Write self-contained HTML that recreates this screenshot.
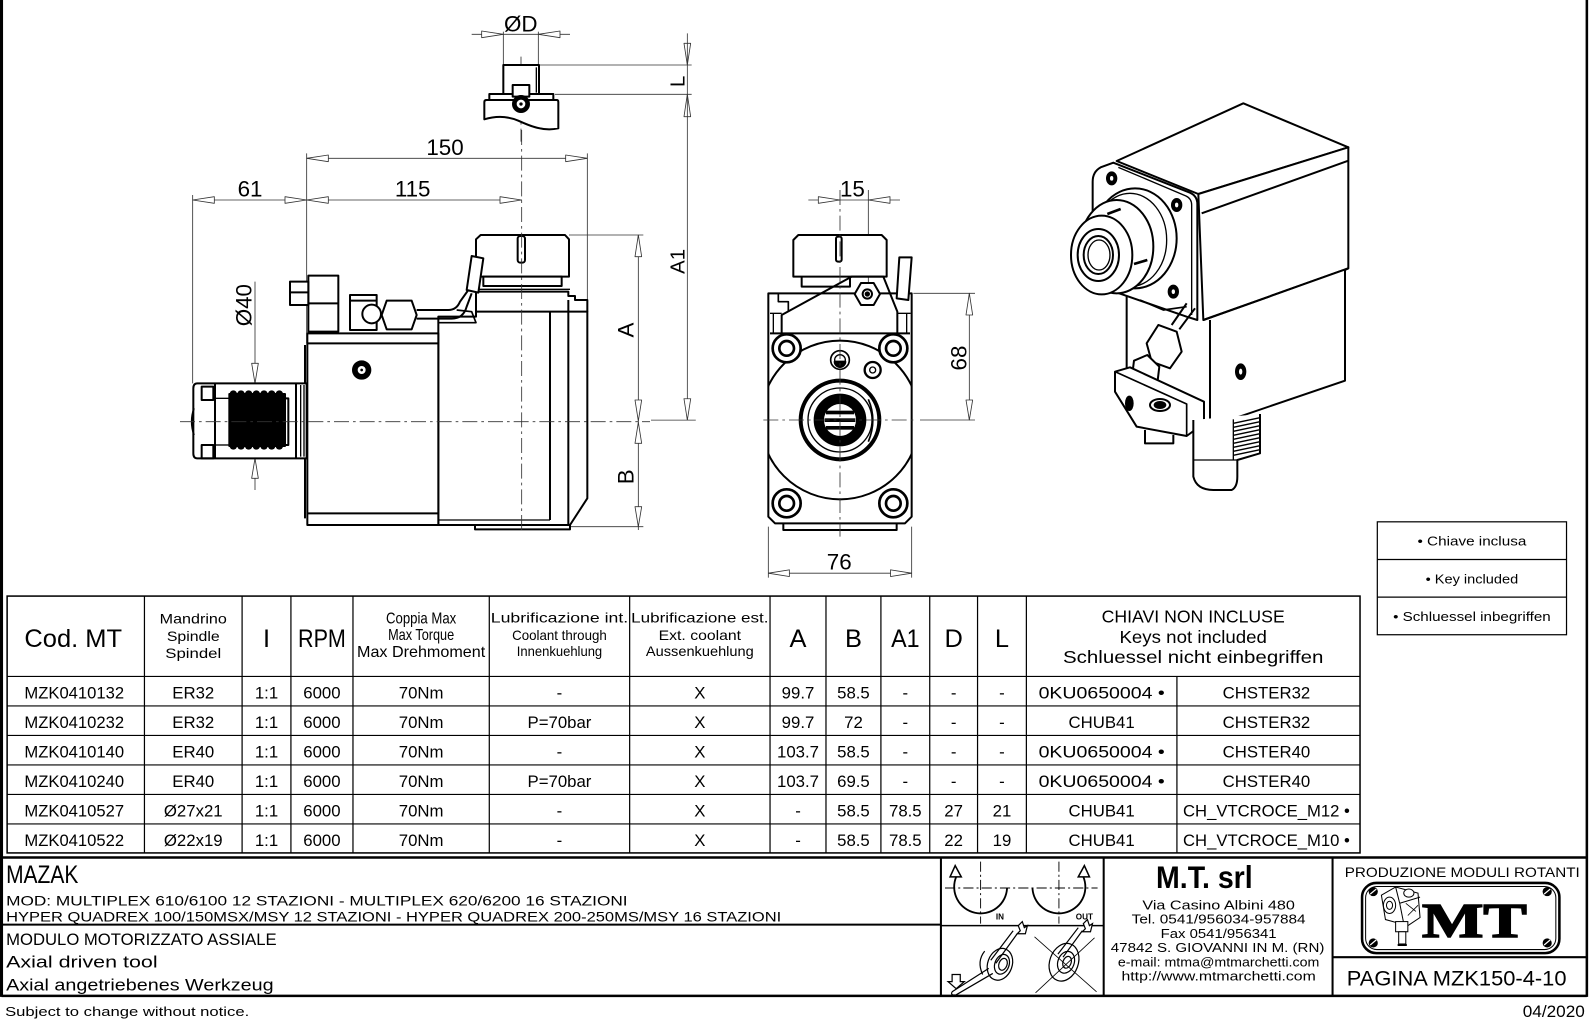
<!DOCTYPE html>
<html><head><meta charset="utf-8">
<style>
html,body{margin:0;padding:0;background:#fff;overflow:hidden;}
svg{display:block;}
text{font-family:"Liberation Sans",sans-serif;fill:#000;stroke:none;}
</style></head><body>
<svg width="1595" height="1023" viewBox="0 0 1568 1005.7" preserveAspectRatio="none" xmlns="http://www.w3.org/2000/svg">
<rect x="0" y="0" width="1568" height="1006" fill="#fff"/>

<!-- ============ FRAME ============ -->
<g stroke="#000" fill="none">
<line x1="1.5" y1="0" x2="1.5" y2="980" stroke-width="3"/>
<line x1="1560" y1="0" x2="1560" y2="980" stroke-width="2.5"/>
</g>

<!-- ============ TOP SMALL VIEW (ØD / L) ============ -->
<g transform="translate(432.55,0) scale(0.32769)" fill="none" stroke="#000" stroke-width="6" stroke-linejoin="round">
 <g stroke="#333" stroke-width="2.5">
  <line x1="95" y1="103" x2="390" y2="103"/>
  <line x1="190" y1="95" x2="190" y2="195"/>
  <line x1="295" y1="95" x2="295" y2="195"/>
  <polygon points="190,103 125,93 125,113" fill="#fff"/>
  <polygon points="295,103 360,93 360,113" fill="#fff"/>
  <line x1="297" y1="195" x2="755" y2="195"/>
  <line x1="345" y1="283" x2="755" y2="283"/>
  <polygon points="742,195 732,130 752,130" fill="#fff"/>
  <polygon points="742,283 732,350 752,350" fill="#fff"/>
  <line x1="243" y1="170" x2="243" y2="425" stroke-dasharray="40 12 8 12"/>
 </g>
 <rect x="190" y="195" width="107" height="87" fill="#fff"/>
 <line x1="289" y1="202" x2="289" y2="278" stroke-width="4"/>
 <path d="M133,306 Q133,300 140,300 H350 Q355,300 355,306 V385 C310,395 270,378 235,362 C195,345 160,350 133,358 Z" fill="#fff"/>
 <rect x="148" y="282" width="192" height="18" fill="#fff"/>
 <rect x="218" y="255" width="50" height="35" fill="#fff"/>
 <circle cx="243" cy="312" r="24" fill="#000"/>
 <circle cx="243" cy="312" r="13" fill="#fff" stroke="none"/>
 <circle cx="243" cy="312" r="5" fill="#000" stroke="none"/>
</g>
<text x="512" y="31" font-size="22" text-anchor="middle">ØD</text>
<!-- L/A1 dimension line -->
<g stroke="#333" stroke-width="0.8" fill="#fff">
 <line x1="675.7" y1="32.8" x2="675.7" y2="413"/>
 <line x1="640" y1="413" x2="684" y2="413"/>
 <polygon points="675.7,413 672.4,392 679,392"/>
</g>
<text transform="translate(673,80) rotate(-90)" font-size="20" text-anchor="middle">L</text>
<text transform="translate(673,257) rotate(-90)" font-size="20" text-anchor="middle">A1</text>

<!-- ============ SIDE VIEW ============ -->
<g transform="translate(167.12,127.8) scale(0.32769)" fill="none" stroke="#000" stroke-width="6" stroke-linejoin="round">
 <g stroke="#333" stroke-width="2.5">
  <line x1="410" y1="85" x2="1252" y2="85"/>
  <line x1="410" y1="70" x2="410" y2="640"/>
  <line x1="1252" y1="70" x2="1252" y2="510"/>
  <line x1="68" y1="210" x2="1055" y2="210"/>
  <line x1="68" y1="195" x2="68" y2="760"/>
  <line x1="255" y1="455" x2="255" y2="1080"/>
  <line x1="1405" y1="315" x2="1405" y2="1200"/>
  <line x1="1197" y1="315" x2="1420" y2="315"/>
  <line x1="1200" y1="1190" x2="1420" y2="1190"/>
  <g fill="#fff">
  <polygon points="410,85 475,75 475,95"/>
  <polygon points="1252,85 1187,75 1187,95"/>
  <polygon points="68,210 133,200 133,220"/>
  <polygon points="410,210 345,200 345,220"/>
  <polygon points="410,210 475,200 475,220"/>
  <polygon points="1055,210 990,200 990,220"/>
  <polygon points="255,760 245,700 265,700"/>
  <polygon points="255,985 245,1045 265,1045"/>
  <polygon points="1405,315 1395,380 1415,380"/>
  <polygon points="1405,873 1395,810 1415,810"/>
  <polygon points="1405,877 1395,940 1415,940"/>
  <polygon points="1405,1190 1395,1130 1415,1130"/>
  </g>
 </g>
 <!-- collet nut -->
 <path d="M932,315 H1185 L1197,328 V440 H918 V328 Z" fill="#fff"/>
 <rect x="1043" y="318" width="22" height="80" rx="8" fill="#fff"/>
 <rect x="940" y="440" width="235" height="28" fill="#fff"/>
 <line x1="925" y1="478" x2="1200" y2="478" stroke-width="4"/>
 <!-- plate + right block -->
 <path d="M918,545 V485 H1195 V498 H1215 V510 H1252 V545"/>
 <path d="M805,560 H918 V545 H1252 V1105 L1200,1185 H805 Z" fill="#fff"/>
 <line x1="1140" y1="545" x2="1140" y2="1170"/>
 <line x1="1195" y1="510" x2="1195" y2="1185"/>
 <line x1="805" y1="1170" x2="1140" y2="1170" stroke-width="4"/>
 <path d="M805,578 H918 L905,545 L860,540" stroke-width="5"/>
 <!-- left block -->
 <rect x="412" y="610" width="393" height="575" fill="#fff"/>
 <line x1="412" y1="640" x2="805" y2="640"/>
 <line x1="412" y1="1150" x2="805" y2="1150"/>
 <line x1="405" y1="645" x2="405" y2="1165"/>
 <path d="M915,1185 V1198 H1200 V1185"/>
 <!-- coolant block -->
 <rect x="415" y="437" width="90" height="168" fill="#fff"/>
 <line x1="415" y1="520" x2="505" y2="520"/>
 <rect x="360" y="455" width="55" height="70" fill="#fff"/>
 <line x1="360" y1="487" x2="415" y2="487"/>
 <rect x="540" y="495" width="80" height="105" fill="#fff"/>
 <line x1="540" y1="512" x2="620" y2="512"/>
 <circle cx="605" cy="552" r="28" fill="#fff"/>
 <path d="M650,512 H725 L740,555 L725,598 H650 L635,555 Z" fill="#fff"/>
 <path d="M740,540 H835 Q860,540 870,515 L895,480"/>
 <path d="M740,566 H845 Q880,566 890,530 L905,490"/>
 <polygon points="905,378 940,385 925,488 890,480" fill="#fff"/>
 <!-- screw -->
 <circle cx="575" cy="720" r="26" fill="#000"/>
 <circle cx="575" cy="720" r="12" fill="#fff" stroke="none"/>
 <circle cx="575" cy="720" r="4" fill="#000" stroke="none"/>
 <!-- shank -->
 <path d="M82,760 H410 V985 H82 Q70,985 70,970 V775 Q70,760 82,760 Z" fill="#fff"/>
 <path d="M72,835 Q58,875 72,915" stroke-width="5"/>
 <line x1="135" y1="760" x2="135" y2="985"/>
 <rect x="95" y="770" width="35" height="40"/>
 <rect x="95" y="945" width="35" height="40"/>
 <line x1="135" y1="805" x2="178" y2="805" stroke-width="4"/>
 <line x1="135" y1="945" x2="178" y2="945" stroke-width="4"/>
 <rect x="178" y="792" width="167" height="156" fill="#000"/>
 <g fill="#000" stroke="none">
  <circle cx="190" cy="792" r="11"/><circle cx="213" cy="792" r="11"/><circle cx="236" cy="792" r="11"/><circle cx="259" cy="792" r="11"/><circle cx="282" cy="792" r="11"/><circle cx="305" cy="792" r="11"/><circle cx="328" cy="792" r="11"/>
  <circle cx="190" cy="948" r="11"/><circle cx="213" cy="948" r="11"/><circle cx="236" cy="948" r="11"/><circle cx="259" cy="948" r="11"/><circle cx="282" cy="948" r="11"/><circle cx="305" cy="948" r="11"/><circle cx="328" cy="948" r="11"/>
 </g>
 <rect x="345" y="805" width="10" height="140" fill="#fff"/>
 <line x1="378" y1="760" x2="378" y2="985"/>
 <line x1="392" y1="765" x2="392" y2="980" stroke-width="4"/>
 <line x1="402" y1="765" x2="402" y2="980" stroke-width="4"/>
 <!-- centerlines -->
 <g stroke="#333" stroke-width="2.5" stroke-dasharray="45 12 8 12">
  <line x1="30" y1="875" x2="1440" y2="875"/>
  <line x1="1055" y1="0" x2="1055" y2="1200"/>
 </g>
</g>
<text x="437.5" y="152.5" font-size="22" text-anchor="middle">150</text>
<text x="245.8" y="193.3" font-size="22" text-anchor="middle">61</text>
<text x="405.7" y="193.3" font-size="22" text-anchor="middle">115</text>
<text transform="translate(247,300) rotate(-90)" font-size="22" text-anchor="middle">Ø40</text>
<text transform="translate(622.6,324.5) rotate(-90)" font-size="22" text-anchor="middle">A</text>
<text transform="translate(622.6,468.7) rotate(-90)" font-size="22" text-anchor="middle">B</text>

<!-- ============ FRONT VIEW ============ -->
<defs><clipPath id="bodyclip"><rect x="85" y="370" width="430" height="690"/></clipPath></defs>
<g transform="translate(727.47,167.12) scale(0.32769)" fill="none" stroke="#000" stroke-width="6" stroke-linejoin="round">
 <g stroke="#333" stroke-width="2.5">
  <line x1="205" y1="90" x2="480" y2="90"/>
  <line x1="385" y1="60" x2="385" y2="440"/>
  <line x1="688" y1="370" x2="688" y2="750"/>
  <line x1="520" y1="370" x2="705" y2="370"/>
  <line x1="540" y1="750" x2="705" y2="750"/>
  <line x1="85" y1="1070" x2="85" y2="1223"/>
  <line x1="515" y1="1070" x2="515" y2="1223"/>
  <g fill="#fff">
  <polygon points="300,90 235,80 235,100"/>
  <polygon points="385,90 450,80 450,100"/>
  <polygon points="688,370 678,435 698,435"/>
  <polygon points="688,750 678,690 698,690"/>
  </g>
 </g>
 <!-- nut -->
 <path d="M175,195 H425 L440,210 V320 H160 V210 Z" fill="#fff"/>
 <rect x="288" y="200" width="17" height="75" rx="6" fill="#fff"/>
 <path d="M185,320 V350 H330 V320"/>
 <!-- body -->
 <path d="M85,370 V1040 L105,1060 H495 L515,1040 V370 Z" fill="#fff"/>
 <path d="M85,370 H115 V395 H145 V425" stroke-width="5"/>
 <path d="M125,490 V435 L335,320 H430 L472,425 V490"/>
 <line x1="90" y1="490" x2="510" y2="490"/>
 <line x1="90" y1="430" x2="125" y2="430" stroke-width="4"/>
 <line x1="472" y1="430" x2="512" y2="430" stroke-width="4"/>
 <line x1="100" y1="430" x2="100" y2="490" stroke-width="4"/>
 <line x1="500" y1="430" x2="500" y2="490" stroke-width="4"/>
 <polygon points="420,372 401,405 363,405 344,372 363,339 401,339" fill="#fff"/>
 <circle cx="382" cy="372" r="14"/>
 <circle cx="382" cy="372" r="5" fill="#000"/>
 <polygon points="478,262 515,262 505,390 470,385" fill="#fff"/>
 <circle cx="300" cy="750" r="238" clip-path="url(#bodyclip)"/>
 <g stroke-width="8">
  <circle cx="140" cy="535" r="42" fill="#fff"/><circle cx="140" cy="535" r="22"/>
  <circle cx="460" cy="535" r="42" fill="#fff"/><circle cx="460" cy="535" r="22"/>
  <circle cx="140" cy="1000" r="42" fill="#fff"/><circle cx="140" cy="1000" r="22"/>
  <circle cx="460" cy="1000" r="42" fill="#fff"/><circle cx="460" cy="1000" r="22"/>
 </g>
 <circle cx="300" cy="750" r="118" stroke-width="12"/>
 <circle cx="300" cy="750" r="96" stroke-width="4"/>
 <circle cx="300" cy="750" r="76" fill="#000"/>
 <circle cx="300" cy="750" r="48" fill="#fff" stroke="none"/>
 <rect x="258" y="722" width="84" height="11" fill="#000" stroke="none"/>
 <rect x="254" y="745" width="92" height="11" fill="#000" stroke="none"/>
 <rect x="258" y="768" width="84" height="11" fill="#000" stroke="none"/>
 <path d="M385,688 Q412,750 385,815" stroke-width="5"/>
 <circle cx="300" cy="570" r="28" stroke-width="5"/>
 <circle cx="300" cy="570" r="16" stroke-width="4"/>
 <path d="M284,575 H316 A16,16 0 0 1 284,575 Z" fill="#000"/>
 <circle cx="398" cy="600" r="24" stroke-width="7"/>
 <circle cx="398" cy="600" r="9" stroke-width="4"/>
 <path d="M130,1060 V1080 H470 V1060"/>
 <g stroke="#333" stroke-width="2.5" stroke-dasharray="45 12 8 12">
  <line x1="300" y1="60" x2="300" y2="1100"/>
  <line x1="70" y1="750" x2="530" y2="750"/>
 </g>
</g>
<g stroke="#333" stroke-width="0.8" fill="#fff">
 <line x1="755.3" y1="563.5" x2="896.2" y2="563.5"/>
 <polygon points="755.3,563.5 776,560.2 776,566.8"/>
 <polygon points="896.2,563.5 875.5,560.2 875.5,566.8"/>
</g>
<text x="838" y="193.4" font-size="22" text-anchor="middle">15</text>
<text transform="translate(950,352) rotate(-90)" font-size="22" text-anchor="middle">68</text>
<text x="825" y="560" font-size="22" text-anchor="middle">76</text>

<!-- ============ ISOMETRIC VIEW ============ -->
<g transform="translate(1012.56,88.48) scale(0.32769)" fill="none" stroke="#000" stroke-width="6" stroke-linejoin="round">
 <path d="M260,213 L640,40 L955,172 L505,312 Z" fill="#fff"/>
 <path d="M505,312 L955,172 V535 L520,690 Z" fill="#fff"/>
 <line x1="515" y1="370" x2="955" y2="212"/>
 <path d="M955,535 L945,540 V872 L540,1010 V690" fill="#fff"/>
 <line x1="520" y1="690" x2="955" y2="535"/>
 <path d="M290,600 V845 L540,1010"/>
 <ellipse cx="632" cy="845" rx="14" ry="22" fill="#000"/>
 <ellipse cx="632" cy="845" rx="5" ry="9" fill="#fff" stroke="none"/>
 <!-- front plate -->
 <path d="M250,218 L480,308 Q502,318 502,342 V690 L470,680 L210,590 Q188,582 188,560 V275 Q188,245 212,232 Z" fill="#fff"/>
 <path d="M265,232 L468,318 Q485,326 485,345 V675" stroke-width="4"/>
 <g>
  <ellipse cx="245" cy="265" rx="14" ry="18" fill="#000"/>
  <ellipse cx="440" cy="345" rx="14" ry="18" fill="#000"/>
  <ellipse cx="430" cy="605" rx="14" ry="18" fill="#000"/>
 </g>
 <g fill="#fff" stroke="none">
  <ellipse cx="245" cy="265" rx="5" ry="7"/><ellipse cx="440" cy="345" rx="5" ry="7"/><ellipse cx="430" cy="605" rx="5" ry="7"/>
 </g>
 <!-- collet -->
 <ellipse cx="315" cy="445" rx="125" ry="150" fill="#fff"/>
 <ellipse cx="300" cy="450" rx="110" ry="140" stroke-width="4"/>
 <ellipse cx="260" cy="470" rx="110" ry="140" fill="#fff"/>
 <ellipse cx="215" cy="495" rx="92" ry="118" fill="#fff"/>
 <ellipse cx="205" cy="495" rx="62" ry="78"/>
 <ellipse cx="205" cy="495" rx="44" ry="57"/>
 <ellipse cx="207" cy="495" rx="33" ry="45" stroke-width="4"/>
 <path d="M232,372 L272,357 M312,522 L352,510" stroke-width="8"/>
 <path d="M330,630 L400,660 L470,650" stroke-width="5"/>
 <!-- fitting -->
 <path d="M470,640 L425,705 M495,655 L448,718"/>
 <path d="M385,705 L440,725 L455,785 L420,835 L365,815 L350,760 Z" fill="#fff"/>
 <path d="M312,812 L352,795 L388,830 L382,880 L342,895 L306,860 Z" fill="#fff"/>
 <!-- bracket -->
 <path d="M255,845 L300,832 L522,935 V1000 L470,1038 L320,1010 L255,905 Z" fill="#fff"/>
 <path d="M255,845 L470,942 V1038" stroke-width="5"/>
 <ellipse cx="390" cy="945" rx="30" ry="18" fill="#fff"/>
 <ellipse cx="390" cy="945" rx="16" ry="9" fill="#000"/>
 <ellipse cx="298" cy="940" rx="10" ry="20" fill="#000"/>
 <path d="M345,1020 V1060 H430 V1035"/>
 <!-- threaded shank -->
 <path d="M490,990 V1160 Q500,1200 550,1200 H605 Q622,1192 622,1160 V1110 L690,1090 V972" fill="#fff"/>
 <g stroke-width="4">
  <line x1="610" y1="1000" x2="690" y2="983"/><line x1="610" y1="1012" x2="690" y2="995"/><line x1="610" y1="1024" x2="690" y2="1007"/>
  <line x1="610" y1="1036" x2="690" y2="1019"/><line x1="610" y1="1048" x2="690" y2="1031"/><line x1="610" y1="1060" x2="690" y2="1043"/>
  <line x1="610" y1="1072" x2="690" y2="1055"/><line x1="610" y1="1084" x2="690" y2="1067"/><line x1="610" y1="1096" x2="690" y2="1079"/>
  <line x1="610" y1="988" x2="610" y2="1110"/>
 </g>
 <line x1="490" y1="1110" x2="622" y2="1110" stroke-width="4"/>
</g>

<!-- ============ KEY LEGEND ============ -->
<g stroke="#000" stroke-width="1.2" fill="none">
 <rect x="1354" y="513" width="186" height="111"/>
 <line x1="1354" y1="550" x2="1540" y2="550"/>
 <line x1="1354" y1="587" x2="1540" y2="587"/>
</g>
<text x="1447" y="536.5" font-size="13" text-anchor="middle" textLength="107" lengthAdjust="spacingAndGlyphs">• Chiave inclusa</text>
<text x="1447" y="573.5" font-size="13" text-anchor="middle" textLength="91" lengthAdjust="spacingAndGlyphs">• Key included</text>
<text x="1447" y="610.5" font-size="13" text-anchor="middle" textLength="155" lengthAdjust="spacingAndGlyphs">• Schluessel inbegriffen</text>

<!-- ============ TABLE ============ -->
<g stroke="#000" stroke-width="1.2" fill="none">
 <rect x="7" y="586" width="1330" height="252.5" stroke-width="1.5"/>
 <line x1="7" y1="665" x2="1337" y2="665"/>
 <line x1="7" y1="694" x2="1337" y2="694"/>
 <line x1="7" y1="723" x2="1337" y2="723"/>
 <line x1="7" y1="752" x2="1337" y2="752"/>
 <line x1="7" y1="781" x2="1337" y2="781"/>
 <line x1="7" y1="810" x2="1337" y2="810"/>
 <line x1="142" y1="586" x2="142" y2="839"/>
 <line x1="238" y1="586" x2="238" y2="839"/>
 <line x1="286" y1="586" x2="286" y2="839"/>
 <line x1="347" y1="586" x2="347" y2="839"/>
 <line x1="481" y1="586" x2="481" y2="839"/>
 <line x1="619" y1="586" x2="619" y2="839"/>
 <line x1="757" y1="586" x2="757" y2="839"/>
 <line x1="812" y1="586" x2="812" y2="839"/>
 <line x1="866" y1="586" x2="866" y2="839"/>
 <line x1="914" y1="586" x2="914" y2="839"/>
 <line x1="961" y1="586" x2="961" y2="839"/>
 <line x1="1009" y1="586" x2="1009" y2="839"/>
 <line x1="1157" y1="665" x2="1157" y2="839"/>
</g>
<!-- header -->
<text x="72" y="636" font-size="25" text-anchor="middle" textLength="96" lengthAdjust="spacingAndGlyphs">Cod. MT</text>
<g font-size="14" text-anchor="middle">
 <text x="190" y="613" textLength="66" lengthAdjust="spacingAndGlyphs">Mandrino</text>
 <text x="190" y="630" textLength="52" lengthAdjust="spacingAndGlyphs">Spindle</text>
 <text x="190" y="647" textLength="55" lengthAdjust="spacingAndGlyphs">Spindel</text>
</g>
<text x="262" y="636" font-size="25" text-anchor="middle">I</text>
<text x="316.5" y="636" font-size="25" text-anchor="middle" textLength="47" lengthAdjust="spacingAndGlyphs">RPM</text>
<g font-size="15" text-anchor="middle">
 <text x="414" y="613" textLength="69" lengthAdjust="spacingAndGlyphs">Coppia Max</text>
 <text x="414" y="629" textLength="65" lengthAdjust="spacingAndGlyphs">Max Torque</text>
 <text x="414" y="646" textLength="126" lengthAdjust="spacingAndGlyphs">Max Drehmoment</text>
</g>
<g font-size="13.5" text-anchor="middle">
 <text x="550" y="612" textLength="135" lengthAdjust="spacingAndGlyphs">Lubrificazione int.</text>
 <text x="550" y="629" textLength="93" lengthAdjust="spacingAndGlyphs">Coolant through</text>
 <text x="550" y="645" textLength="84" lengthAdjust="spacingAndGlyphs">Innenkuehlung</text>
 <text x="688" y="612" textLength="135" lengthAdjust="spacingAndGlyphs">Lubrificazione est.</text>
 <text x="688" y="629" textLength="81" lengthAdjust="spacingAndGlyphs">Ext. coolant</text>
 <text x="688" y="645" textLength="106" lengthAdjust="spacingAndGlyphs">Aussenkuehlung</text>
</g>
<g font-size="25" text-anchor="middle">
 <text x="784.5" y="636">A</text>
 <text x="839" y="636">B</text>
 <text x="890" y="636" textLength="28" lengthAdjust="spacingAndGlyphs">A1</text>
 <text x="937.5" y="636">D</text>
 <text x="985" y="636">L</text>
</g>
<g font-size="17" text-anchor="middle">
 <text x="1173" y="612" textLength="180" lengthAdjust="spacingAndGlyphs">CHIAVI NON INCLUSE</text>
 <text x="1173" y="632" textLength="145" lengthAdjust="spacingAndGlyphs">Keys not included</text>
 <text x="1173" y="652" textLength="256" lengthAdjust="spacingAndGlyphs">Schluessel nicht einbegriffen</text>
</g>
<!-- rows -->
<g font-size="16.5" text-anchor="middle">
 <text x="73" y="686.5" textLength="98" lengthAdjust="spacingAndGlyphs">MZK0410132</text>
 <text x="190" y="686.5">ER32</text><text x="262" y="686.5">1:1</text><text x="316.5" y="686.5">6000</text>
 <text x="414" y="686.5">70Nm</text><text x="550" y="686.5">-</text><text x="688" y="686.5">X</text>
 <text x="784.5" y="686.5">99.7</text><text x="839" y="686.5">58.5</text><text x="890" y="686.5">-</text><text x="937.5" y="686.5">-</text><text x="985" y="686.5">-</text>
 <text x="1083" y="686.5" textLength="124" lengthAdjust="spacingAndGlyphs">0KU0650004 •</text><text x="1245" y="686.5">CHSTER32</text>

 <text x="73" y="715.5" textLength="98" lengthAdjust="spacingAndGlyphs">MZK0410232</text>
 <text x="190" y="715.5">ER32</text><text x="262" y="715.5">1:1</text><text x="316.5" y="715.5">6000</text>
 <text x="414" y="715.5">70Nm</text><text x="550" y="715.5">P=70bar</text><text x="688" y="715.5">X</text>
 <text x="784.5" y="715.5">99.7</text><text x="839" y="715.5">72</text><text x="890" y="715.5">-</text><text x="937.5" y="715.5">-</text><text x="985" y="715.5">-</text>
 <text x="1083" y="715.5">CHUB41</text><text x="1245" y="715.5">CHSTER32</text>

 <text x="73" y="744.5" textLength="98" lengthAdjust="spacingAndGlyphs">MZK0410140</text>
 <text x="190" y="744.5">ER40</text><text x="262" y="744.5">1:1</text><text x="316.5" y="744.5">6000</text>
 <text x="414" y="744.5">70Nm</text><text x="550" y="744.5">-</text><text x="688" y="744.5">X</text>
 <text x="784.5" y="744.5">103.7</text><text x="839" y="744.5">58.5</text><text x="890" y="744.5">-</text><text x="937.5" y="744.5">-</text><text x="985" y="744.5">-</text>
 <text x="1083" y="744.5" textLength="124" lengthAdjust="spacingAndGlyphs">0KU0650004 •</text><text x="1245" y="744.5">CHSTER40</text>

 <text x="73" y="773.5" textLength="98" lengthAdjust="spacingAndGlyphs">MZK0410240</text>
 <text x="190" y="773.5">ER40</text><text x="262" y="773.5">1:1</text><text x="316.5" y="773.5">6000</text>
 <text x="414" y="773.5">70Nm</text><text x="550" y="773.5">P=70bar</text><text x="688" y="773.5">X</text>
 <text x="784.5" y="773.5">103.7</text><text x="839" y="773.5">69.5</text><text x="890" y="773.5">-</text><text x="937.5" y="773.5">-</text><text x="985" y="773.5">-</text>
 <text x="1083" y="773.5" textLength="124" lengthAdjust="spacingAndGlyphs">0KU0650004 •</text><text x="1245" y="773.5">CHSTER40</text>

 <text x="73" y="802.5" textLength="98" lengthAdjust="spacingAndGlyphs">MZK0410527</text>
 <text x="190" y="802.5">Ø27x21</text><text x="262" y="802.5">1:1</text><text x="316.5" y="802.5">6000</text>
 <text x="414" y="802.5">70Nm</text><text x="550" y="802.5">-</text><text x="688" y="802.5">X</text>
 <text x="784.5" y="802.5">-</text><text x="839" y="802.5">58.5</text><text x="890" y="802.5">78.5</text><text x="937.5" y="802.5">27</text><text x="985" y="802.5">21</text>
 <text x="1083" y="802.5">CHUB41</text><text x="1245" y="802.5" textLength="164" lengthAdjust="spacingAndGlyphs">CH_VTCROCE_M12 •</text>

 <text x="73" y="831.5" textLength="98" lengthAdjust="spacingAndGlyphs">MZK0410522</text>
 <text x="190" y="831.5">Ø22x19</text><text x="262" y="831.5">1:1</text><text x="316.5" y="831.5">6000</text>
 <text x="414" y="831.5">70Nm</text><text x="550" y="831.5">-</text><text x="688" y="831.5">X</text>
 <text x="784.5" y="831.5">-</text><text x="839" y="831.5">58.5</text><text x="890" y="831.5">78.5</text><text x="937.5" y="831.5">22</text><text x="985" y="831.5">19</text>
 <text x="1083" y="831.5">CHUB41</text><text x="1245" y="831.5" textLength="164" lengthAdjust="spacingAndGlyphs">CH_VTCROCE_M10 •</text>
</g>

<!-- ============ TITLE BLOCK ============ -->
<g stroke="#000" fill="none">
 <line x1="1.5" y1="843" x2="1560" y2="843" stroke-width="2.5"/>
 <line x1="1.5" y1="979" x2="1560" y2="979" stroke-width="2.5"/>
 <line x1="1.5" y1="909" x2="925" y2="909" stroke-width="2"/>
 <line x1="925" y1="843" x2="925" y2="979" stroke-width="2"/>
 <line x1="925" y1="910" x2="1085" y2="910" stroke-width="1.5"/>
 <line x1="1085" y1="843" x2="1085" y2="979" stroke-width="2"/>
 <line x1="1310" y1="843" x2="1310" y2="979" stroke-width="2"/>
 <line x1="1310" y1="941" x2="1560" y2="941" stroke-width="2"/>
</g>
<text x="6" y="868" font-size="25" textLength="71" lengthAdjust="spacingAndGlyphs">MAZAK</text>
<text x="6" y="890" font-size="13.5" textLength="611" lengthAdjust="spacingAndGlyphs">MOD: MULTIPLEX 610/6100 12 STAZIONI - MULTIPLEX 620/6200 16 STAZIONI</text>
<text x="6" y="906" font-size="13.5" textLength="762" lengthAdjust="spacingAndGlyphs">HYPER QUADREX 100/150MSX/MSY 12 STAZIONI - HYPER QUADREX 200-250MS/MSY 16 STAZIONI</text>
<text x="6" y="929" font-size="16" textLength="266" lengthAdjust="spacingAndGlyphs">MODULO MOTORIZZATO ASSIALE</text>
<text x="6" y="951" font-size="16" textLength="149" lengthAdjust="spacingAndGlyphs">Axial driven tool</text>
<text x="6" y="974" font-size="16" textLength="263" lengthAdjust="spacingAndGlyphs">Axial angetriebenes Werkzeug</text>

<!-- rotation icons -->
<g stroke="#000" fill="none">
 <g stroke-width="0.9" stroke-dasharray="10 3 2 3">
  <line x1="929" y1="873" x2="1079" y2="873"/>
  <line x1="964" y1="847" x2="964" y2="908"/>
  <line x1="1041" y1="847" x2="1041" y2="908"/>
 </g>
 <path d="M940,862 A26,26 0 1 0 990,873" stroke-width="1.8"/>
 <path d="M1015,873 A26,26 0 1 0 1065,862" stroke-width="1.8"/>
 <polygon points="939,851 934,862 945,862" fill="#fff" stroke-width="1.5"/>
 <polygon points="1066,851 1060,862 1071,862" fill="#fff" stroke-width="1.5"/>
</g>
<text x="983" y="904" font-size="8" font-weight="bold" text-anchor="middle">IN</text>
<text x="1066" y="904" font-size="8" font-weight="bold" text-anchor="middle">OUT</text>
<!-- wrench icons -->
<g stroke="#000" fill="none" stroke-width="1.2">
 <ellipse cx="983" cy="948" rx="12" ry="16" transform="rotate(20 983 948)" fill="#fff"/>
 <ellipse cx="985" cy="948" rx="7" ry="10" transform="rotate(20 985 948)"/>
 <ellipse cx="986" cy="948" rx="4" ry="6" transform="rotate(20 986 948)"/>
 <path d="M968,935 Q960,945 966,958" />
 <path d="M936,975 L972,952 M940,978 L976,957 M936,975 Q934,979 940,978"/>
 <path d="M974,944 L996,915 M979,947 L1000,918"/>
 <polygon points="936,958 944,958 944,965 948,965 940,972 932,965 936,965" fill="#fff"/>
 <polygon points="1001,910 1005,906 1007,912 1010,910 1008,918 1000,918 1003,915" fill="#fff"/>
 <ellipse cx="1046" cy="946" rx="14" ry="19" transform="rotate(20 1046 946)" fill="#fff"/>
 <ellipse cx="1048" cy="946" rx="8" ry="11" transform="rotate(20 1048 946)"/>
 <ellipse cx="1049" cy="946" rx="4" ry="6" transform="rotate(20 1049 946)"/>
 <path d="M1040,938 L1060,912 M1045,941 L1064,915"/>
 <polygon points="1065,908 1069,904 1071,910 1074,908 1072,916 1064,916 1067,913" fill="#fff"/>
 <line x1="1017" y1="921" x2="1078" y2="975" stroke-width="0.8"/>
 <line x1="1018" y1="976" x2="1076" y2="922" stroke-width="0.8"/>
</g>

<!-- M.T. srl -->
<text x="1184" y="873" font-size="31" font-weight="bold" text-anchor="middle" textLength="95" lengthAdjust="spacingAndGlyphs">M.T. srl</text>
<g font-size="13" text-anchor="middle">
 <text x="1198" y="894" textLength="150" lengthAdjust="spacingAndGlyphs">Via Casino Albini 480</text>
 <text x="1198" y="908" textLength="171" lengthAdjust="spacingAndGlyphs">Tel. 0541/956034-957884</text>
 <text x="1198" y="922" textLength="114" lengthAdjust="spacingAndGlyphs">Fax 0541/956341</text>
 <text x="1197" y="936" textLength="210" lengthAdjust="spacingAndGlyphs">47842 S. GIOVANNI IN M. (RN)</text>
 <text x="1198" y="950" textLength="198" lengthAdjust="spacingAndGlyphs">e-mail: mtma@mtmarchetti.com</text>
 <text x="1198" y="964" textLength="191" lengthAdjust="spacingAndGlyphs">http://www.mtmarchetti.com</text>
</g>

<!-- Produzione / logo / pagina -->
<text x="1322" y="862" font-size="14" textLength="231" lengthAdjust="spacingAndGlyphs">PRODUZIONE MODULI ROTANTI</text>
<g stroke="#000" fill="none">
 <rect x="1339" y="868" width="194" height="69" rx="14" stroke-width="2.5"/>
 <rect x="1342.5" y="871.5" width="187" height="62" rx="11" stroke-width="1"/>
</g>
<g fill="#000">
 <circle cx="1350" cy="876.5" r="4.5"/><circle cx="1521" cy="876.5" r="4.5"/>
 <circle cx="1350" cy="927" r="4.5"/><circle cx="1521" cy="927" r="4.5"/>
</g>
<g stroke="#fff" stroke-width="1.2">
 <line x1="1347" y1="879" x2="1353" y2="874"/><line x1="1518" y1="879" x2="1524" y2="874"/>
 <line x1="1347" y1="929" x2="1353" y2="924"/><line x1="1518" y1="929" x2="1524" y2="924"/>
</g>
<text x="1398" y="921" font-size="48" font-weight="bold" textLength="103" lengthAdjust="spacingAndGlyphs" style="font-family:'Liberation Serif',serif;stroke:#000;stroke-width:1.5px">MT</text>
<!-- mini module sketch -->
<g stroke="#000" fill="#fff" stroke-width="1">
 <polygon points="1358,880 1372,872 1394,878 1396,902 1384,910 1362,904"/>
 <line x1="1372" y1="872" x2="1376" y2="888"/>
 <line x1="1376" y1="888" x2="1396" y2="882"/>
 <line x1="1376" y1="888" x2="1380" y2="908"/>
 <ellipse cx="1366" cy="890" rx="6" ry="8"/>
 <ellipse cx="1366" cy="890" rx="3" ry="4"/>
 <ellipse cx="1385" cy="878" rx="5" ry="4"/>
 <rect x="1372" y="906" width="12" height="10"/>
 <rect x="1375" y="916" width="7" height="12"/>
 <line x1="1374" y1="929" x2="1383" y2="929" stroke-width="2"/>
 <path d="M1382,888 L1392,896 M1384,900 L1394,890" stroke-width="0.8"/>
</g>
<text x="1324" y="969" font-size="21" textLength="216" lengthAdjust="spacingAndGlyphs">PAGINA MZK150-4-10</text>

<!-- footer -->
<text x="5" y="999" font-size="13" textLength="240" lengthAdjust="spacingAndGlyphs">Subject to change without notice.</text>
<text x="1558" y="1000" font-size="16" text-anchor="end" textLength="61" lengthAdjust="spacingAndGlyphs">04/2020</text>
</svg>
</body></html>
